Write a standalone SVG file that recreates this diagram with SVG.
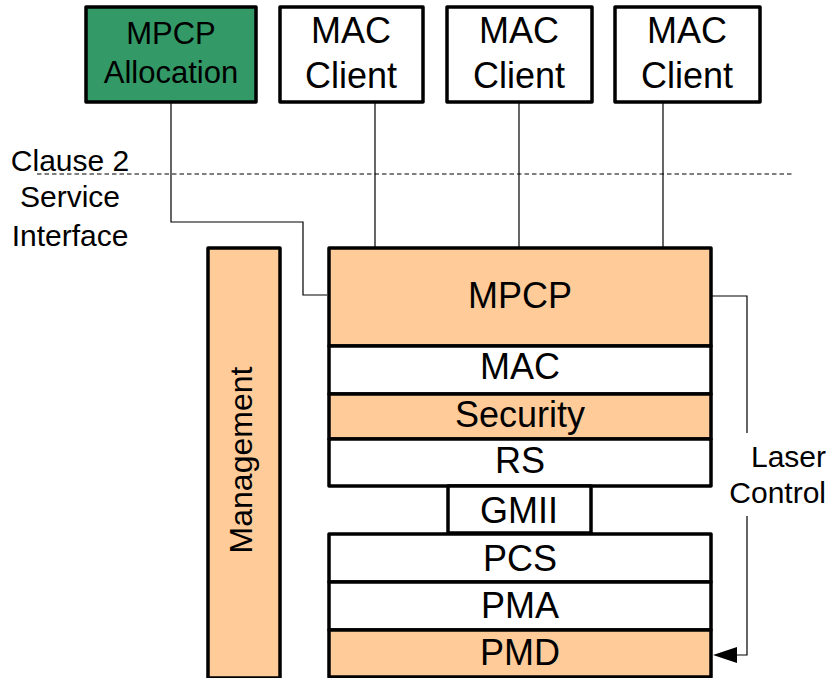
<svg xmlns="http://www.w3.org/2000/svg" width="830" height="678" viewBox="0 0 830 678" font-family="'Liberation Sans', Arial, sans-serif">
<defs>
<style>
.box{stroke:#000;stroke-width:3.5;stroke-linejoin:round}
.peach{fill:#FFCC99}
.white{fill:#FFFFFF}
.green{fill:#339966}
.conn{fill:none;stroke:#000;stroke-width:1.2}
.dash{fill:none;stroke:#000;stroke-width:1.2;stroke-dasharray:4.5,3}
text{font-family:"Liberation Sans",Arial,sans-serif;fill:#000}
.t36{font-size:36px;text-anchor:middle}
.t31{font-size:31px;text-anchor:middle}
.t30{font-size:30px}
</style>
</defs>
<rect width="830" height="678" fill="#fff"/>

<g id="connectors">
<polyline class="conn" points="171,102 171,222 303,222 303,295 327,295"/>
<line class="conn" x1="375" y1="102" x2="375" y2="247"/>
<line class="conn" x1="519" y1="102" x2="519" y2="247"/>
<line class="conn" x1="663" y1="102" x2="663" y2="247"/>
<line class="dash" x1="37" y1="174" x2="793" y2="174"/>
<polyline class="conn" points="712,296 747,296 747,433"/>
<polyline class="conn" points="747,516 747,655 737,655"/>
<path d="M737,647 L713,655 L737,663 Z" fill="#000"/>
</g>

<g id="mpcp-allocation">
<rect class="box green" x="86" y="7" width="170" height="95"/>
<text class="t31" x="171" y="44">MPCP</text>
<text class="t31" x="171" y="83">Allocation</text>
</g>
<g id="mac-client-1">
<rect class="box white" x="280" y="7" width="143" height="95"/>
<text class="t36" x="351" y="43">MAC</text>
<text class="t36" x="351" y="88">Client</text>
</g>
<g id="mac-client-2">
<rect class="box white" x="447" y="7" width="145" height="95"/>
<text class="t36" x="519" y="43">MAC</text>
<text class="t36" x="519" y="88">Client</text>
</g>
<g id="mac-client-3">
<rect class="box white" x="615" y="7" width="145" height="95"/>
<text class="t36" x="687" y="43">MAC</text>
<text class="t36" x="687" y="88">Client</text>
</g>

<g id="service-interface-label">
<text class="t30" x="70" y="171" text-anchor="middle">Clause 2</text>
<text class="t30" x="70" y="207" text-anchor="middle">Service</text>
<text class="t30" x="70" y="246" text-anchor="middle">Interface</text>
</g>

<g id="management">
<rect class="box peach" x="208" y="248" width="72" height="430"/>
<text font-size="32" text-anchor="middle" transform="translate(252,460) rotate(-90)">Management</text>
</g>

<g id="mpcp">
<rect class="box peach" x="329" y="248" width="382" height="98"/>
<text class="t36" x="520" y="308">MPCP</text>
</g>
<g id="mac">
<rect class="box white" x="329" y="346" width="382" height="48"/>
<text class="t36" x="520" y="379">MAC</text>
</g>
<g id="security">
<rect class="box peach" x="329" y="394" width="382" height="45"/>
<text class="t36" x="520" y="427">Security</text>
</g>
<g id="rs">
<rect class="box white" x="329" y="439" width="382" height="47"/>
<text class="t36" x="520" y="473">RS</text>
</g>
<g id="gmii">
<rect class="box white" x="448" y="486" width="143" height="47"/>
<text class="t36" x="519" y="523">GMII</text>
</g>
<g id="pcs">
<rect class="box white" x="329" y="534" width="382" height="48"/>
<text class="t36" x="520" y="571">PCS</text>
</g>
<g id="pma">
<rect class="box white" x="329" y="582" width="382" height="48"/>
<text class="t36" x="520" y="618">PMA</text>
</g>
<g id="pmd">
<rect class="box peach" x="329" y="630" width="382" height="47"/>
<text class="t36" x="520" y="665">PMD</text>
</g>

<g id="laser-control-label">
<text class="t30" x="826" y="467" text-anchor="end">Laser</text>
<text class="t30" x="826" y="503" text-anchor="end">Control</text>
</g>
</svg>
